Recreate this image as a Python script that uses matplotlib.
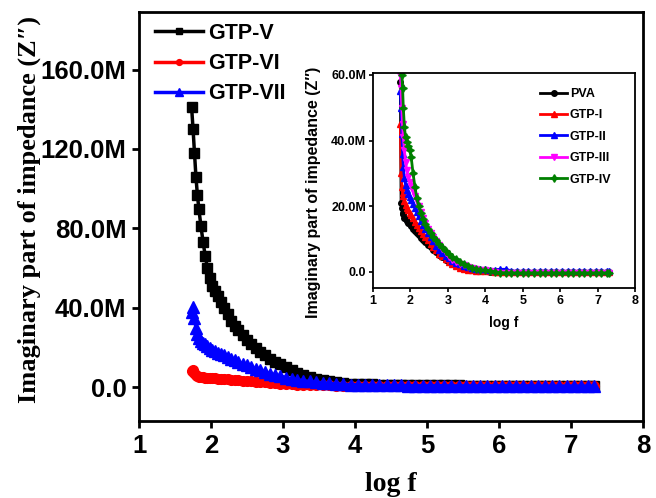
import matplotlib
matplotlib.use("Agg")
import matplotlib.pyplot as plt
from matplotlib.ticker import FuncFormatter

# ---- main plot data (log f, Z'' in M ohm) ----
logf = [1.73, 1.75, 1.77, 1.79, 1.81, 1.83, 1.86, 1.89, 1.92, 1.95,
        1.98, 2.02, 2.06, 2.10, 2.14, 2.18, 2.23, 2.28, 2.33, 2.38,
        2.44, 2.50, 2.56, 2.62, 2.68, 2.75, 2.82, 2.89, 2.96, 3.04,
        3.12, 3.20, 3.28, 3.37, 3.46, 3.55, 3.64, 3.74, 3.84, 3.94,
        4.04, 4.14, 4.24, 4.34, 4.44, 4.54, 4.64, 4.74, 4.84, 4.94,
        5.04, 5.14, 5.24, 5.34, 5.44, 5.54, 5.64, 5.74, 5.84, 5.94,
        6.04, 6.14, 6.24, 6.34, 6.44, 6.54, 6.64, 6.74, 6.84, 6.94,
        7.04, 7.14, 7.24, 7.32]

gtp_v = [141, 130, 118, 106, 97, 90, 81, 73, 66, 60,
         55, 51, 48.5, 46, 43, 40, 37, 33.5, 31, 29,
         26.5, 24, 22, 20, 18, 16, 14.3, 12.8, 11.5, 10,
         8.6, 7.3, 6.2, 5.2, 4.3, 3.6, 3.0, 2.5, 2.1, 1.8,
         1.6, 1.5, 1.4, 1.3, 1.2, 1.2, 1.1, 1.1, 1.0, 1.0,
         1.0, 0.9, 0.9, 0.9, 0.9, 0.8, 0.8, 0.8, 0.8, 0.8,
         0.8, 0.7, 0.7, 0.7, 0.7, 0.7, 0.7, 0.7, 0.6, 0.6,
         0.6, 0.6, 0.6, 0.6]

gtp_vi = [8.0, 8.5, 7.0, 6.0, 5.6, 5.3, 5.1, 5.0, 4.9, 4.8,
          4.7, 4.6, 4.5, 4.4, 4.3, 4.2, 4.0, 3.9, 3.7, 3.6,
          3.4, 3.2, 3.0, 2.8, 2.6, 2.4, 2.2, 2.0, 1.8, 1.6,
          1.4, 1.3, 1.2, 1.1, 1.0, 0.9, 0.9, 0.8, 0.8, 0.7,
          0.7, 0.7, 0.7, 0.6, 0.6, 0.6, 0.6, 0.6, 0.6, 0.6,
          0.6, 0.6, 0.6, 0.6, 0.6, 0.6, 0.6, 0.6, 0.6, 0.6,
          0.6, 0.6, 0.6, 0.6, 0.6, 0.6, 0.6, 0.6, 0.6, 0.6,
          0.6, 0.6, 0.6, 0.6]

gtp_vii = [38, 40.5, 35, 30, 27, 25, 23.5, 22.5, 22, 21,
           20, 19, 18.5, 17.5, 16.8, 16, 15, 14.2, 13.5, 12.7,
           11.8, 11, 10.1, 9.3, 8.5, 7.6, 6.9, 6.2, 5.6, 4.9,
           4.3, 3.8, 3.3, 2.9, 2.5, 2.2, 1.9, 1.7, 1.5, 1.3,
           1.2, 1.1, 1.0, 1.0, 0.9, 0.9, 0.9, 0.8, 0.8, 0.8,
           0.8, 0.8, 0.7, 0.7, 0.7, 0.7, 0.7, 0.7, 0.7, 0.7,
           0.7, 0.7, 0.7, 0.7, 0.7, 0.6, 0.6, 0.6, 0.6, 0.6,
           0.6, 0.6, 0.6, 0.5]

# ---- inset data ----
logf_in = [1.73, 1.75, 1.77, 1.79, 1.81, 1.84, 1.87, 1.90, 1.94, 1.98,
           2.02, 2.07, 2.12, 2.17, 2.22, 2.28, 2.34, 2.40, 2.47, 2.54,
           2.61, 2.69, 2.77, 2.85, 2.94, 3.03, 3.12, 3.22, 3.32, 3.42,
           3.53, 3.64, 3.75, 3.87, 3.99, 4.12, 4.25, 4.40, 4.55, 4.70,
           4.85, 5.00, 5.15, 5.30, 5.45, 5.60, 5.75, 5.90, 6.05, 6.20,
           6.35, 6.50, 6.65, 6.80, 6.95, 7.10, 7.25, 7.30]

pva = [58, 21, 19.5, 18, 17.5, 16.5, 16, 15.5, 15, 14.5,
       14, 13.2, 12.5, 11.8, 11.2, 10.4, 9.7, 9.0, 8.3, 7.5,
       6.8, 6.0, 5.2, 4.4, 3.7, 3.0, 2.4, 1.8, 1.3, 1.0,
       0.7, 0.5, 0.35, 0.25, 0.2, 0.1, 0.1, 0.1, 0.1, 0.0,
       0.0, 0.0, 0.0, 0.0, 0.0, 0.0, 0.0, 0.0, 0.0, 0.0,
       0.0, 0.0, 0.0, 0.0, 0.0, 0.0, 0.0, 0.0]

gtp_i = [45, 30, 26, 24, 23, 21.5, 20.5, 19.5, 18.8, 18,
         17.2, 16.3, 15.3, 14.3, 13.4, 12.4, 11.5, 10.6, 9.6, 8.6,
         7.6, 6.6, 5.6, 4.7, 3.9, 3.1, 2.4, 1.8, 1.3, 1.0,
         0.7, 0.5, 0.4, 0.3, 0.2, 0.2, 0.1, 0.1, 0.1, 0.1,
         0.1, 0.1, 0.1, 0.1, 0.1, 0.1, 0.1, 0.1, 0.1, 0.1,
         0.1, 0.1, 0.1, 0.1, 0.1, 0.1, 0.1, 0.1]

gtp_ii = [55, 50, 42, 36, 32, 28.5, 26.5, 25, 23.8, 22.8,
          21.8, 20.8, 19.5, 18.2, 17, 15.6, 14.3, 13, 11.8, 10.5,
          9.3, 8.0, 6.8, 5.8, 4.9, 4.1, 3.4, 2.8, 2.3, 1.9,
          1.5, 1.2, 1.0, 0.9, 0.8, 0.7, 0.7, 0.8, 0.8, 0.3,
          0.2, 0.2, 0.2, 0.2, 0.2, 0.2, 0.2, 0.2, 0.2, 0.2,
          0.2, 0.2, 0.2, 0.2, 0.2, 0.2, 0.2, 0.2]

gtp_iii = [60, 56, 50, 45, 41, 37, 33.5, 31, 29, 27.5,
           26.3, 24.8, 23.2, 21.6, 20, 18.2, 16.5, 14.8, 13.2, 11.8,
           10.5, 9.3, 8.2, 7.0, 5.8, 4.6, 3.7, 3.0, 2.5, 2.0,
           1.6, 1.2, 0.9, 0.7, 0.5, 0.3, 0.1, -0.2, -0.3, -0.3,
           -0.2, -0.2, -0.2, -0.2, -0.2, -0.2, -0.2, -0.2, -0.2, -0.2,
           -0.2, -0.2, -0.2, -0.2, -0.2, -0.2, -0.2, -0.2]

gtp_iv = [62, 61, 60, 56, 50, 44, 41, 39.5, 38.5, 37,
          35, 30, 26, 22.5, 20, 17.8, 16, 14.5, 13, 11.8,
          10.7, 9.6, 8.6, 7.6, 6.5, 5.5, 4.6, 3.8, 3.0, 2.3,
          1.7, 1.3, 1.0, 0.7, 0.5, 0.3, 0.0, -0.2, -0.3, -0.3,
          -0.3, -0.3, -0.3, -0.3, -0.3, -0.3, -0.3, -0.3, -0.3, -0.3,
          -0.3, -0.3, -0.3, -0.3, -0.3, -0.3, -0.3, -0.3]


def mfmt(v, pos):
    if abs(v) < 1e-9:
        return "0.0"
    return f"{v / 1e6:.1f}M"


def m(vals):
    return [v * 1e6 for v in vals]


sans = ["Liberation Sans", "DejaVu Sans"]
serif = ["Liberation Serif", "DejaVu Serif"]

fig = plt.figure(figsize=(6.56, 4.98), dpi=100)

# main axes
ax = fig.add_axes([0.212, 0.1546, 0.768, 0.8214])
ax.plot(logf, m(gtp_v), color="black", marker="s", ms=7, lw=2.5, label="GTP-V")
ax.plot(logf, m(gtp_vi), color="red", marker="o", ms=7, lw=2.5, label="GTP-VI")
ax.plot(logf, m(gtp_vii), color="blue", marker="^", ms=9, lw=2.5, label="GTP-VII")

ax.set_xlim(1, 8)
ax.set_ylim(-17e6, 189e6)
ax.set_xticks(range(1, 9))
ax.set_yticks([0, 40e6, 80e6, 120e6, 160e6])
ax.yaxis.set_major_formatter(FuncFormatter(mfmt))
ax.tick_params(direction="out", length=5, width=2, pad=4)
for lab in ax.get_xticklabels() + ax.get_yticklabels():
    lab.set_family(sans)
    lab.set_fontweight("bold")
    lab.set_fontsize(18.5)
for s in ax.spines.values():
    s.set_linewidth(2)

ax.set_ylabel("Imaginary part of impedance (Z\u2033)", family=serif,
              fontweight="bold", fontsize=19)
ax.yaxis.set_label_coords(-0.195, 0.516)
ax.set_xlabel("log f", family=serif, fontweight="bold", fontsize=20)
ax.xaxis.set_label_coords(0.5, -0.125)

leg = ax.legend(loc="upper left", bbox_to_anchor=(0.032, 0.973), frameon=False,
                borderpad=0, borderaxespad=0, handlelength=2.2,
                handletextpad=0.24, labelspacing=0.42, markerscale=0.6,
                prop={"family": sans, "size": 15.5, "weight": "bold"})

# inset axes
ins = fig.add_axes([0.5686, 0.4217, 0.3994, 0.4317])
ins.plot(logf_in, m(pva), color="black", marker="o", ms=4, lw=2, label="PVA")
ins.plot(logf_in, m(gtp_i), color="red", marker="^", ms=4, lw=2, label="GTP-I")
ins.plot(logf_in, m(gtp_ii), color="blue", marker="^", ms=4.5, lw=2, label="GTP-II")
ins.plot(logf_in, m(gtp_iii), color="magenta", marker="v", ms=4.5, lw=2, label="GTP-III")
ins.plot(logf_in, m(gtp_iv), color="green", marker=(4, 1, 0), ms=5.5, lw=2, label="GTP-IV")

ins.set_xlim(1, 8)
ins.set_ylim(-4.9e6, 60.6e6)
ins.set_xticks(range(1, 9))
ins.set_yticks([0, 20e6, 40e6, 60e6])
ins.yaxis.set_major_formatter(FuncFormatter(mfmt))
ins.tick_params(direction="out", length=3, width=1.2, pad=2)
for lab in ins.get_xticklabels() + ins.get_yticklabels():
    lab.set_family(sans)
    lab.set_fontweight("bold")
    lab.set_fontsize(9)
for s in ins.spines.values():
    s.set_linewidth(1.3)

ins.set_ylabel("Imaginary part of impedance (Z\u2033)", family=sans,
               fontweight="bold", fontsize=11.5)
ins.yaxis.set_label_coords(-0.2, 0.447)
ins.set_xlabel("log f", family=sans, fontweight="bold", fontsize=10)
ins.xaxis.set_label_coords(0.5, -0.13)

ins.legend(loc="upper left", bbox_to_anchor=(0.637, 0.93), frameon=False,
           borderpad=0, borderaxespad=0, handlelength=2.2,
           handletextpad=0.2, labelspacing=0.75,
           prop={"family": sans, "size": 9, "weight": "bold"})

fig.savefig("out.png", dpi=100)
